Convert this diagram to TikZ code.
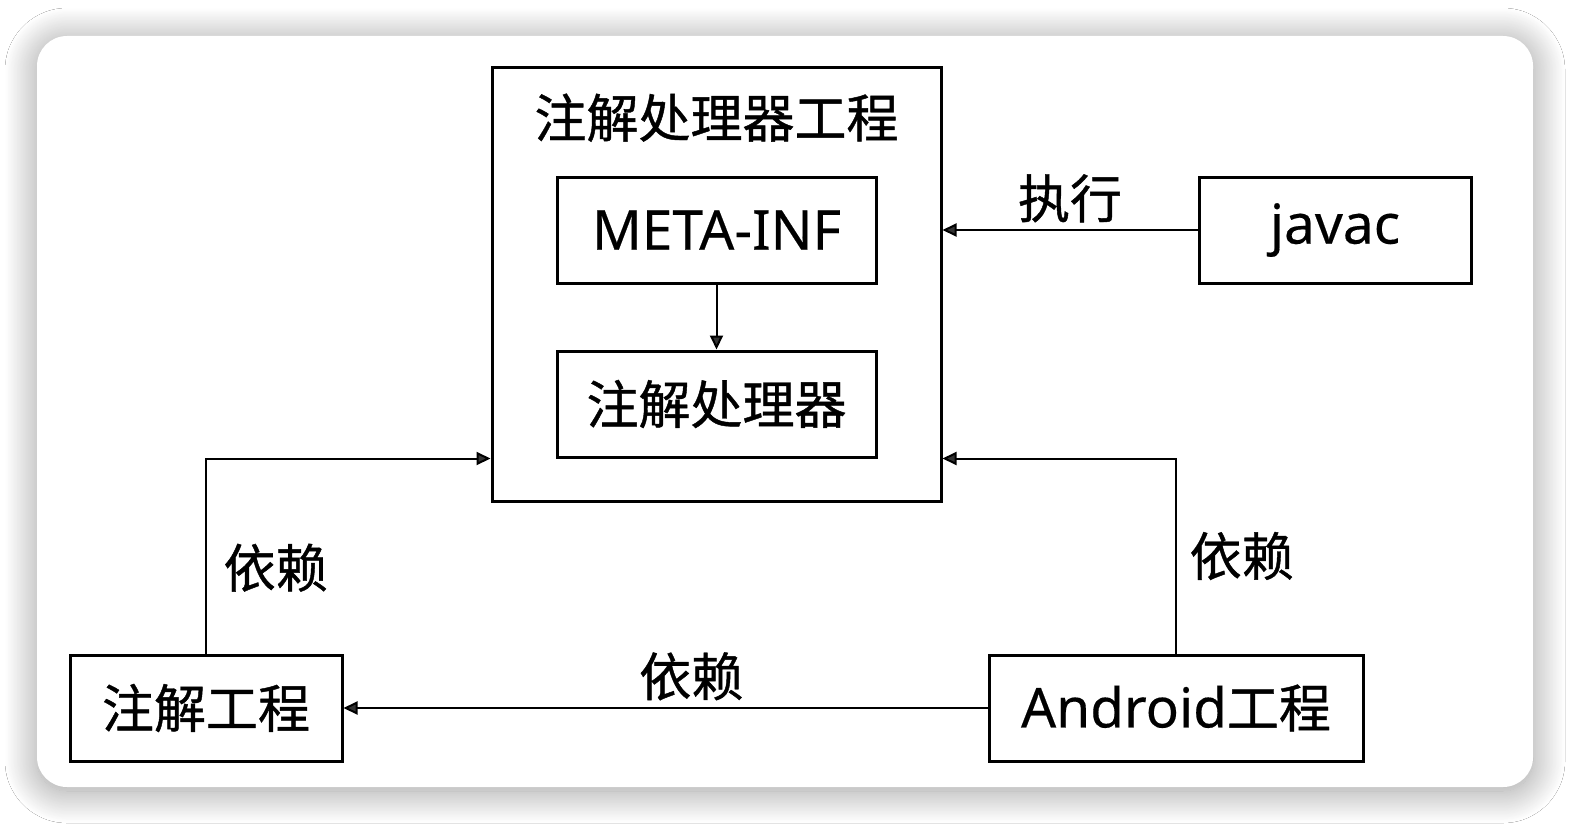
\documentclass[tikz,border=0pt]{standalone}
\usepackage{fontspec}
\setmainfont{Noto Sans}[FakeBold=0.3]
\newfontfamily\cjk{Noto Sans CJK SC}[FakeBold=0.8]
\usetikzlibrary{arrows.meta, positioning, shadows.blur}

\begin{document}
\begin{tikzpicture}[x=0.5pt, y=-0.5pt]
    % Styles
    \tikzstyle{card} = [fill=white, rounded corners=15pt,
                        blur shadow={shadow xshift=0pt, shadow yshift=-2pt,
                        shadow blur radius=16pt, shadow blur steps=40, shadow opacity=40}]
    \tikzstyle{box} = [rectangle, draw, line width=1.5pt, inner sep=0pt,
                       minimum height=53pt, font=\fontsize{27.5}{32}\selectfont]
    \tikzstyle{arr} = [-{Triangle[length=7pt, width=6.5pt]}, line width=1pt]
    \tikzstyle{lbl} = [font=\cjk\fontsize{26}{30}\selectfont]

    \useasboundingbox (0,0) rectangle (1572,824);
    \fill[white] (0,0) rectangle (1572,824);
    \path[card] (37,36) rectangle (1533,787);

    % Nodes
    \node [box, minimum width=224.5pt, minimum height=216.5pt] (proj) at (716.5,284.5) {};
    \node [lbl, below=10pt of proj.north] (title) {注解处理器工程};
    \node [box, minimum width=159.5pt] (meta) at (716.5,230) {META-INF};
    \node [box, minimum width=159.5pt, font=\cjk\fontsize{26}{30}\selectfont] (proc) at (716.5,404) {注解处理器};
    \node [box, minimum width=136pt] (javac) at (1335,230) {javac};
    \node [box, minimum width=136pt, font=\cjk\fontsize{26}{30}\selectfont] (anno) at (206,708) {注解工程};
    \node [box, minimum width=187pt] (android) at (1176,708) {Android{\cjk\fontsize{26}{30}\selectfont 工程}};

    % Connections
    \draw[arr] (meta) -- (proc);
    \draw[arr] (javac.west) -- node[lbl, above] {执行} (proj.east |- javac.west);
    \draw[arr] (android) -- node[lbl, above, pos=0.46] {依赖} (anno);
    \draw[arr] (anno.north) |- node[lbl, right, pos=0.22, xshift=5pt] {依赖} (proj.west |- proc.south);
    \draw[arr] (android.north) |- node[lbl, right, pos=0.25, xshift=3pt] {依赖} (proj.east |- proc.south);
\end{tikzpicture}
\end{document}
